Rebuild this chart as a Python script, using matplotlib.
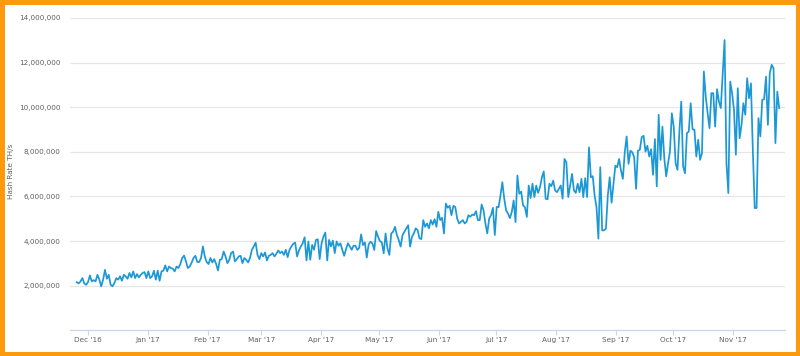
import numpy as np
import pandas as pd
import matplotlib
matplotlib.use('Agg')
import matplotlib.pyplot as plt
from matplotlib.patches import Rectangle
from matplotlib.ticker import FuncFormatter

# daily hash rate, millions of TH/s
hash_late_nov_jan = [2.16, 2.10, 2.19, 2.34, 2.10, 2.04, 2.16, 2.46, 2.19, 2.25,
                     2.19, 2.49, 2.27, 1.97, 2.27, 2.71, 2.31, 2.49, 2.04, 1.97,
                     2.12, 2.34, 2.27, 2.42, 2.22, 2.49, 2.42, 2.31, 2.57, 2.37,
                     2.64, 2.34, 2.52, 2.37, 2.49, 2.57, 2.61, 2.34, 2.64, 2.34,
                     2.42, 2.67, 2.27, 2.67, 2.22, 2.64, 2.67, 2.91, 2.64, 2.86,
                     2.79, 2.76, 2.64, 2.86, 2.79, 2.97, 3.24, 3.35, 3.09, 2.79,
                     2.86, 3.03, 3.24, 3.34, 3.06, 3.06, 3.24, 3.76, 3.31, 3.06,
                     2.97, 3.24]
hash_feb_apr = [3.04, 3.19, 2.98, 2.68, 3.16, 3.19, 3.53, 3.31, 3.01, 3.16,
                3.46, 3.53, 3.09, 3.19, 3.31, 3.34, 3.01, 3.24, 3.16, 3.04,
                3.24, 3.61, 3.76, 3.93, 3.38, 3.19, 3.46, 3.31, 3.49, 3.13,
                3.34, 3.38, 3.46, 3.31, 3.43, 3.58, 3.46, 3.53, 3.38, 3.61,
                3.28, 3.61, 3.76, 3.88, 3.93, 3.31, 3.58, 3.76, 3.90, 4.17,
                3.13, 3.98, 3.16, 3.83, 3.61, 4.05, 4.08, 3.19, 3.90, 4.20,
                4.38, 3.13, 4.05, 3.76, 4.02, 3.46, 3.98, 3.79, 3.90, 3.61,
                3.34, 3.64, 3.90, 3.76, 3.61, 3.79]
hash_may_jun = [3.79, 3.60, 3.70, 4.30, 3.82, 3.94, 3.26, 3.85, 3.97, 3.90,
                3.60, 4.45, 4.19, 4.00, 3.94, 3.45, 4.34, 3.67, 3.38, 4.34,
                4.42, 4.64, 4.27, 4.04, 3.75, 4.27, 4.42, 4.57, 4.71, 3.75,
                4.19, 4.34, 4.57, 4.49, 4.12, 4.09, 4.94, 4.64, 4.79, 4.57,
                4.94, 4.74, 4.98, 4.64, 5.31, 4.94, 5.04, 4.34, 5.68, 5.49,
                5.58, 5.16, 5.58, 5.53, 5.01, 4.79, 4.86, 4.94, 4.79, 4.86,
                5.16, 5.09, 5.19, 5.16, 5.34, 4.94, 4.94, 5.64, 5.38, 4.79,
                4.34, 5.01, 5.16, 5.49, 4.27, 5.53]
hash_jul_sep = [5.52, 6.04, 6.64, 5.90, 5.38, 5.23, 5.03, 5.30, 5.82, 4.85,
                6.94, 6.12, 6.22, 5.60, 5.52, 5.08, 6.49, 5.93, 6.57, 5.97,
                6.49, 6.16, 6.42, 6.86, 7.12, 5.90, 5.87, 6.57, 6.46, 6.71,
                6.27, 6.19, 6.34, 6.49, 5.90, 7.68, 7.53, 5.97, 6.49, 7.01,
                6.27, 6.16, 6.57, 6.19, 6.79, 5.97, 6.82, 5.97, 8.20, 6.86,
                6.91, 6.04, 5.52, 4.11, 7.31, 4.48, 4.48, 4.56, 6.04, 6.86,
                5.72, 6.57, 7.38, 7.31, 7.68, 7.16, 6.79, 7.98, 8.69, 7.46,
                8.05, 7.98, 7.76, 6.34, 8.05]
hash_sep_nov = [8.09, 8.66, 8.72, 8.01, 8.27, 7.79, 8.12, 6.97, 8.57, 6.45,
                9.66, 7.64, 9.13, 7.72, 6.90, 7.49, 8.01, 9.73, 9.13, 7.49,
                7.19, 8.91, 10.25, 7.34, 7.04, 8.84, 8.91, 10.18, 9.01, 8.99,
                7.79, 8.54, 7.64, 7.94, 11.60, 10.48, 9.73, 9.06, 10.63, 10.63,
                9.13, 10.81, 10.25, 9.96, 11.52, 13.01, 7.49, 6.15, 11.15, 10.63,
                9.88, 7.87, 10.85, 8.61, 9.21, 10.18, 9.66, 11.30, 10.40, 11.07,
                8.09, 5.48, 5.48, 9.51, 8.69, 10.33, 10.36, 11.37, 9.21, 11.52,
                11.90, 11.75, 8.39, 10.70, 9.96]

start_date = '2016-11-25'
end_date = '2017-11-25'
month_ticks = ['2016-12-01', '2017-01-01', '2017-02-01', '2017-03-01',
               '2017-04-01', '2017-05-01', '2017-06-01', '2017-07-01',
               '2017-08-01', '2017-09-01', '2017-10-01', '2017-11-01']
month_labels = ["Dec '16", "Jan '17", "Feb '17", "Mar '17", "Apr '17",
                "May '17", "Jun '17", "Jul '17", "Aug '17", "Sep '17",
                "Oct '17", "Nov '17"]
y_ticks = [2e6, 4e6, 6e6, 8e6, 10e6, 12e6, 14e6]


def main():
    values = np.array(hash_late_nov_jan + hash_feb_apr + hash_may_jun
                      + hash_jul_sep + hash_sep_nov) * 1e6
    dates = pd.date_range(start_date, end_date, periods=len(values))

    fig = plt.figure(figsize=(8, 3.56), dpi=100)
    fig.patch.set_facecolor('white')
    ax = fig.add_axes([0.0875, 0.0722, 0.8937, 0.8773])

    ax.plot(dates, values, color='#1b98d5', linewidth=1.25)

    ax.set_xlim(pd.Timestamp('2016-11-21 12:00'), pd.Timestamp('2017-11-28'))
    ax.set_ylim(0, 14e6)
    ax.set_yticks(y_ticks)
    ax.yaxis.set_major_formatter(FuncFormatter(lambda v, p: '{:,.0f}'.format(v)))
    ax.set_xticks(pd.to_datetime(month_ticks))
    ax.set_xticklabels(month_labels)

    ax.grid(axis='y', color='#e6e6e6', linewidth=0.9)
    ax.set_axisbelow(True)
    for side in ['top', 'right', 'left']:
        ax.spines[side].set_visible(False)
    ax.spines['bottom'].set_color('#ccd6eb')
    ax.spines['bottom'].set_linewidth(0.9)

    ax.tick_params(axis='y', length=0, pad=7, labelsize=5.2, labelcolor='#606060')
    ax.tick_params(axis='x', length=3.6, width=0.8, color='#ccd6eb', pad=1.5,
                   labelsize=5.2, labelcolor='#606060')
    ax.set_ylabel('Hash Rate TH/s', fontsize=5.2, color='#606060')
    ax.yaxis.set_label_coords(-0.078, 0.51)

    # orange frame with a faint inner shadow
    fig.patches.append(Rectangle((0.0035, 0.0065), 0.9935, 0.985,
                                 transform=fig.transFigure, fill=False,
                                 edgecolor='#d8d8d8', linewidth=2.0, zorder=0))
    fig.patches.append(Rectangle((0, 0), 1, 1, transform=fig.transFigure,
                                 fill=False, edgecolor='#fb9a0c',
                                 linewidth=6.5, zorder=1))

    plt.savefig('out.png', dpi=100)


if __name__ == '__main__':
    main()
